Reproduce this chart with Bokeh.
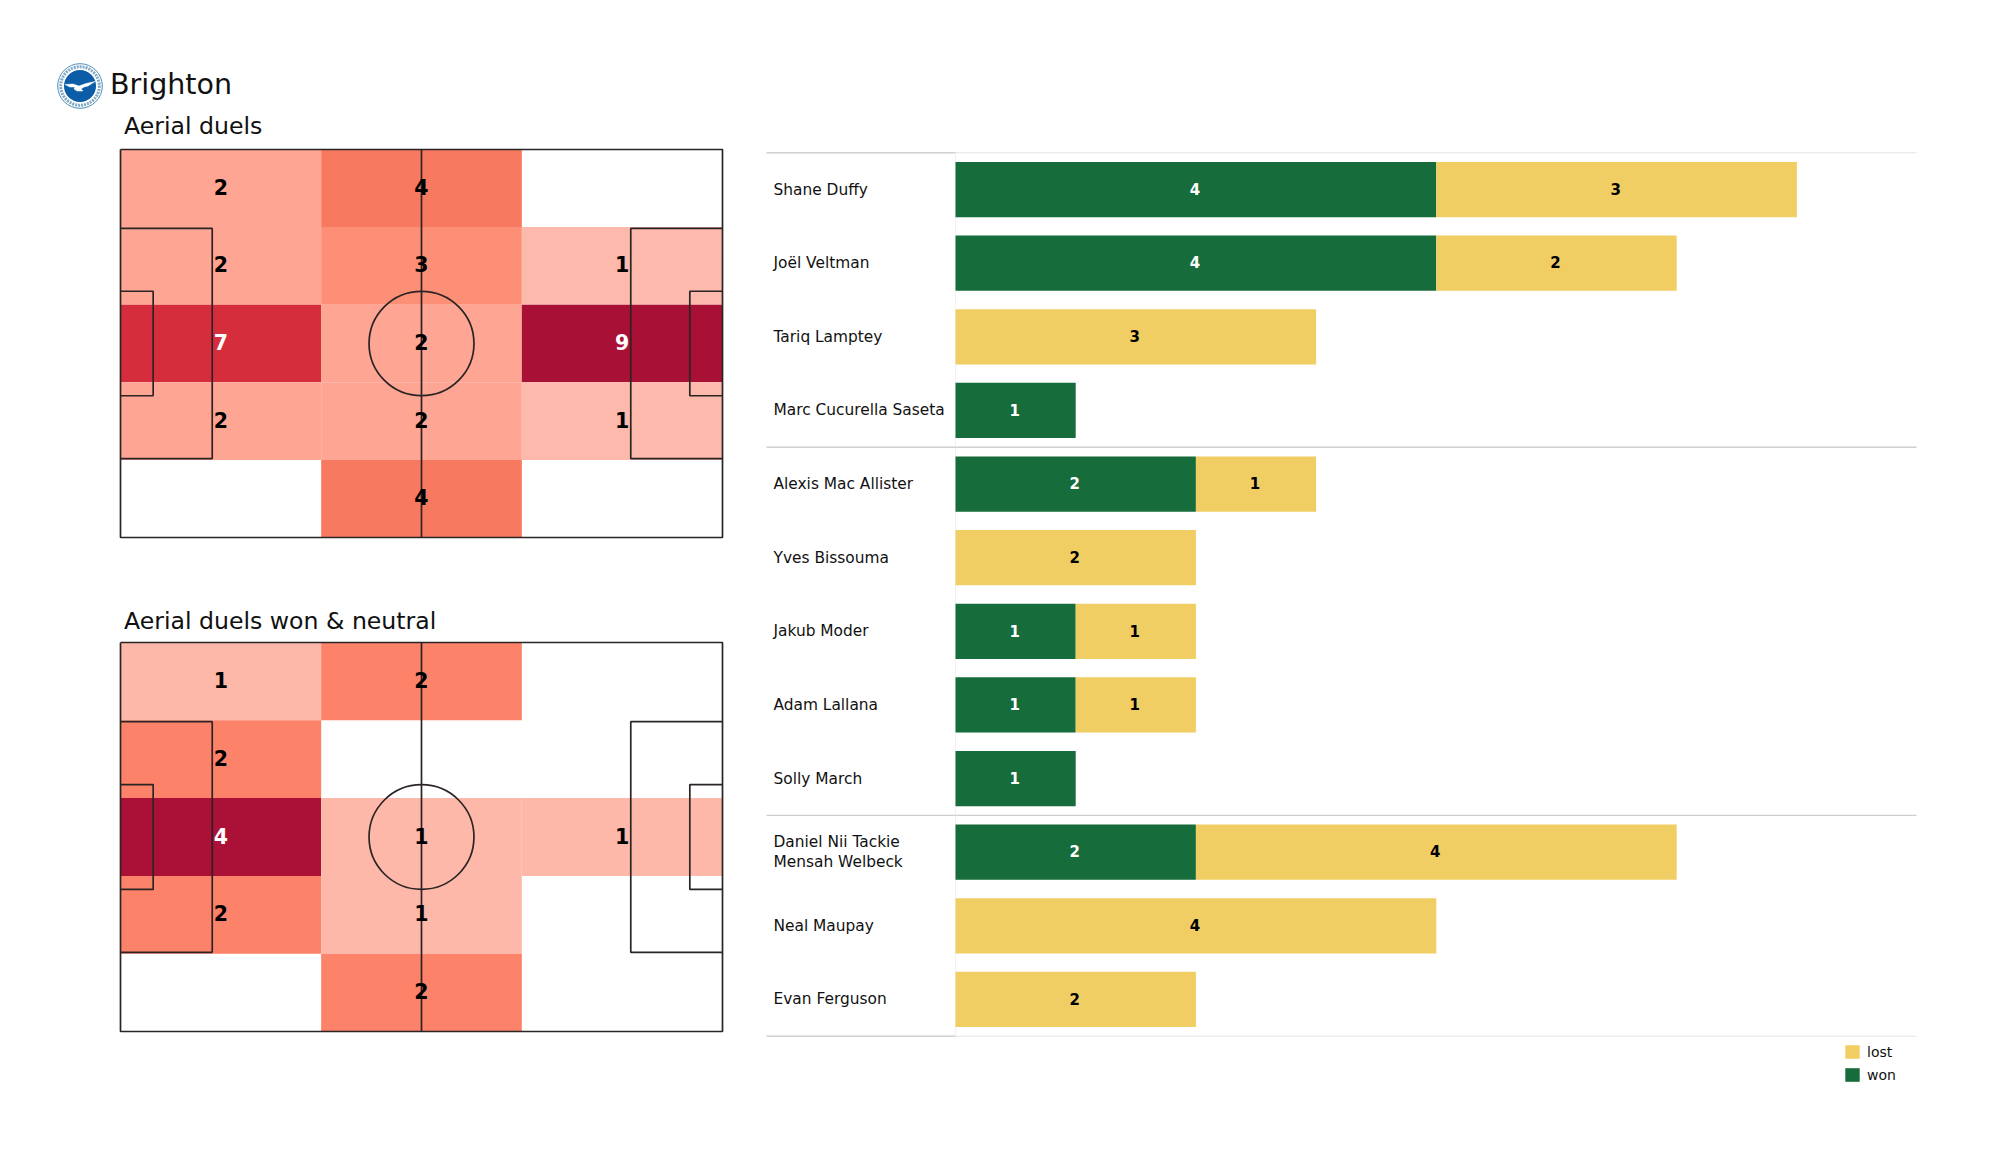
from bokeh.plotting import figure
from bokeh.layouts import column, row
from bokeh.models import Range1d, Legend, LegendItem, ColumnDataSource
from bokeh.core.properties import value
from bokeh.embed import file_html
from bokeh.resources import INLINE

# ---------- data ----------
team = "Brighton"
title_top = "Aerial duels"
title_bottom = "Aerial duels won & neutral"

duels_all = [[2, 4, 0], [2, 3, 1], [7, 2, 9], [2, 2, 1], [0, 4, 0]]
duels_won = [[1, 2, 0], [2, 0, 0], [4, 1, 1], [2, 1, 0], [0, 2, 0]]
colors_all = {1: "#fdb9ab", 2: "#fea593", 3: "#fc8f76", 4: "#f77a60", 7: "#d62d3d", 9: "#a91035"}
colors_won = {1: "#feb8aa", 2: "#fc8269", 4: "#ab1036"}
white_all = {7, 9}
white_won = {4}

players = ["Shane Duffy", "Joël Veltman", "Tariq Lamptey", "Marc Cucurella Saseta",
           "Alexis Mac Allister", "Yves Bissouma", "Jakub Moder", "Adam Lallana", "Solly March",
           "Daniel Nii Tackie\nMensah Welbeck", "Neal Maupay", "Evan Ferguson"]
won = [4, 4, 0, 1, 2, 0, 1, 1, 1, 2, 0, 0]
lost = [3, 2, 3, 0, 1, 2, 1, 1, 0, 4, 4, 2]
group_ends = [4, 9]

GREEN = "#166c3a"
GOLD = "#f1ce63"
FONT = value("DejaVu Sans")
LINE = "#2b2425"
LEFT_W = 750


def bare(**kw):
    p = figure(output_backend="svg", toolbar_location=None, x_axis_location=None,
               y_axis_location=None, background_fill_color="white",
               border_fill_color="white", outline_line_color=None, min_border=0, **kw)
    p.grid.visible = False
    return p


# ---------- pitch ----------
PAD = 4
PW, PH = 602, 388
PX = 120
BOX = 16.0
SIX = 5.7


def pitch(cells, colors, whites, frame_h):
    sx, sy = PW / 105, (frame_h - 2 * PAD) / 68
    p = bare(width=LEFT_W, height=frame_h,
             x_range=Range1d(-PX / sx, (LEFT_W - PX) / sx),
             y_range=Range1d(68 + PAD / sy, -PAD / sy))
    L, T, R, B, C, X, Y, S, TC = [], [], [], [], [], [], [], [], []
    for r, vals in enumerate(cells):
        for c, v in enumerate(vals):
            if v:
                L.append(c * 35); R.append((c + 1) * 35)
                T.append(r * 13.6); B.append((r + 1) * 13.6)
                C.append(colors[v])
                X.append((c + .5) * 35); Y.append((r + .5) * 13.6 - .25)
                S.append(str(v)); TC.append("white" if v in whites else "black")
    p.quad(left=L, right=R, top=T, bottom=B, fill_color=C, line_color=None)
    lw = 1.7
    p.multi_line(
        [[0, 105, 105, 0, 0], [52.5, 52.5],
         [0, BOX, BOX, 0], [105, 105 - BOX, 105 - BOX, 105],
         [0, SIX, SIX, 0], [105, 105 - SIX, 105 - SIX, 105]],
        [[0, 0, 68, 68, 0], [0, 68],
         [13.84, 13.84, 54.16, 54.16], [13.84, 13.84, 54.16, 54.16],
         [24.84, 24.84, 43.16, 43.16], [24.84, 24.84, 43.16, 43.16]],
        line_color=LINE, line_width=lw)
    p.ellipse(x=[52.5], y=[34], width=[18.3], height=[18.3], fill_color=None,
              line_color=LINE, line_width=lw)
    p.text(x=X, y=Y, text=S, text_color=TC, text_font=FONT, text_font_style="bold",
           text_font_size="20.5px", text_align="center", text_baseline="middle")
    return p


# ---------- header with crest ----------
head = bare(width=LEFT_W, height=145, x_range=Range1d(0, LEFT_W), y_range=Range1d(145, 0))
cx, cy = 79.5, 85.5
head.circle(x=[cx], y=[cy], radius=22.3, fill_color="white", line_color="#4a8fbb", line_width=1)
head.circle(x=[cx], y=[cy], radius=19.3, fill_color=None, line_color="#2b6f9f", line_width=3,
            line_dash="2 1", line_alpha=0.6)
head.circle(x=[cx], y=[cy], radius=16, fill_color="#0a5da6", line_color=None)
head.patch(x=[cx + d for d in [-15, -7, -1, 6, 15, 8, 4, 1, 3, -3, -6, -5, -10]],
           y=[cy + d for d in [-1.5, -2, 0, -2.5, -4.5, 0, 1, 3, 5, 5, 3, 1, 1]],
           fill_color="white", line_color="white", line_width=.5)
head.text(x=[109.5], y=[84], text=[team], text_font=FONT, text_font_size="28.5px",
          text_color="#111111", text_baseline="middle")
head.text(x=[123.5], y=[125], text=[title_top], text_font=FONT, text_font_size="23.6px",
          text_color="#111111", text_baseline="middle")

strip = bare(width=LEFT_W, height=97, x_range=Range1d(0, LEFT_W), y_range=Range1d(97, 0))
strip.text(x=[123.5], y=[79], text=[title_bottom], text_font=FONT, text_font_size="23.6px",
           text_color="#111111", text_baseline="middle")

top_pitch = pitch(duels_all, colors_all, white_all, PH + 2 * PAD)
bottom_pitch = pitch(duels_won, colors_won, white_won, 389 + 2 * PAD)

# ---------- bars ----------
UNIT = 120.2
ROW = 73.62
BASE = 955
n = len(players)
RIGHT_W, RIGHT_H = 1200, 1108
x_lab_end = (766 - BASE) / UNIT
x_end = (1916 - BASE) / UNIT
b = bare(width=RIGHT_W, height=RIGHT_H,
         x_range=Range1d((LEFT_W - BASE) / UNIT, (LEFT_W + RIGHT_W - BASE) / UNIT),
         y_range=Range1d(n + (RIGHT_H - 1035.7) / ROW, -152.3 / ROW))

ys = [i + .5 for i in range(n)]
src = ColumnDataSource(dict(y=ys, won=won, lost=lost))
rs = b.hbar_stack(["won", "lost"], y="y", height=.75, color=[GREEN, GOLD], line_color=None, source=src)

for edge, dark in [(0, False)] + [(g, True) for g in group_ends] + [(n, False)]:
    b.line([x_lab_end, 0], [edge, edge], line_color="#cfcfcf", line_width=1.4)
    b.line([0, x_end], [edge, edge], line_color="#cfcfcf" if dark else "#e4e4e4",
           line_width=1.4 if dark else 1.1)
b.line([0, 0], [0, n], line_color="#f1f1f1", line_width=1, level="underlay")

lab_x = (773 - BASE) / UNIT
b.text(x=[lab_x] * n, y=ys, text=players, text_font=FONT, text_font_size="15.4px",
       text_color="#111111", text_baseline="middle", text_line_height=1.1)

vx, vy, vt, vc = [], [], [], []
nudge = 1 / UNIT
for i in range(n):
    if won[i]:
        vx.append(won[i] / 2 - nudge); vy.append(ys[i] - .01); vt.append(str(won[i])); vc.append("white")
    if lost[i]:
        vx.append(won[i] + lost[i] / 2 - nudge); vy.append(ys[i] - .01); vt.append(str(lost[i])); vc.append("black")
b.text(x=vx, y=vy, text=vt, text_color=vc, text_font=FONT, text_font_style="bold",
       text_font_size="15px", text_align="center", text_baseline="middle")

legend = Legend(items=[LegendItem(label="lost", renderers=[rs[1]]),
                       LegendItem(label="won", renderers=[rs[0]])],
                location=(1843 - LEFT_W, RIGHT_H - 1083), orientation="vertical",
                glyph_width=18, glyph_height=17, spacing=6, padding=0, margin=0,
                label_standoff=6, label_text_font="DejaVu Sans", label_text_font_size="14px",
                label_text_color="#111111", border_line_color=None, background_fill_alpha=0,
                label_height=17)
b.add_layout(legend, "center")

page = row(column(head, top_pitch, strip, bottom_pitch), b)
open("out.html", "w").write(file_html(page, INLINE))
